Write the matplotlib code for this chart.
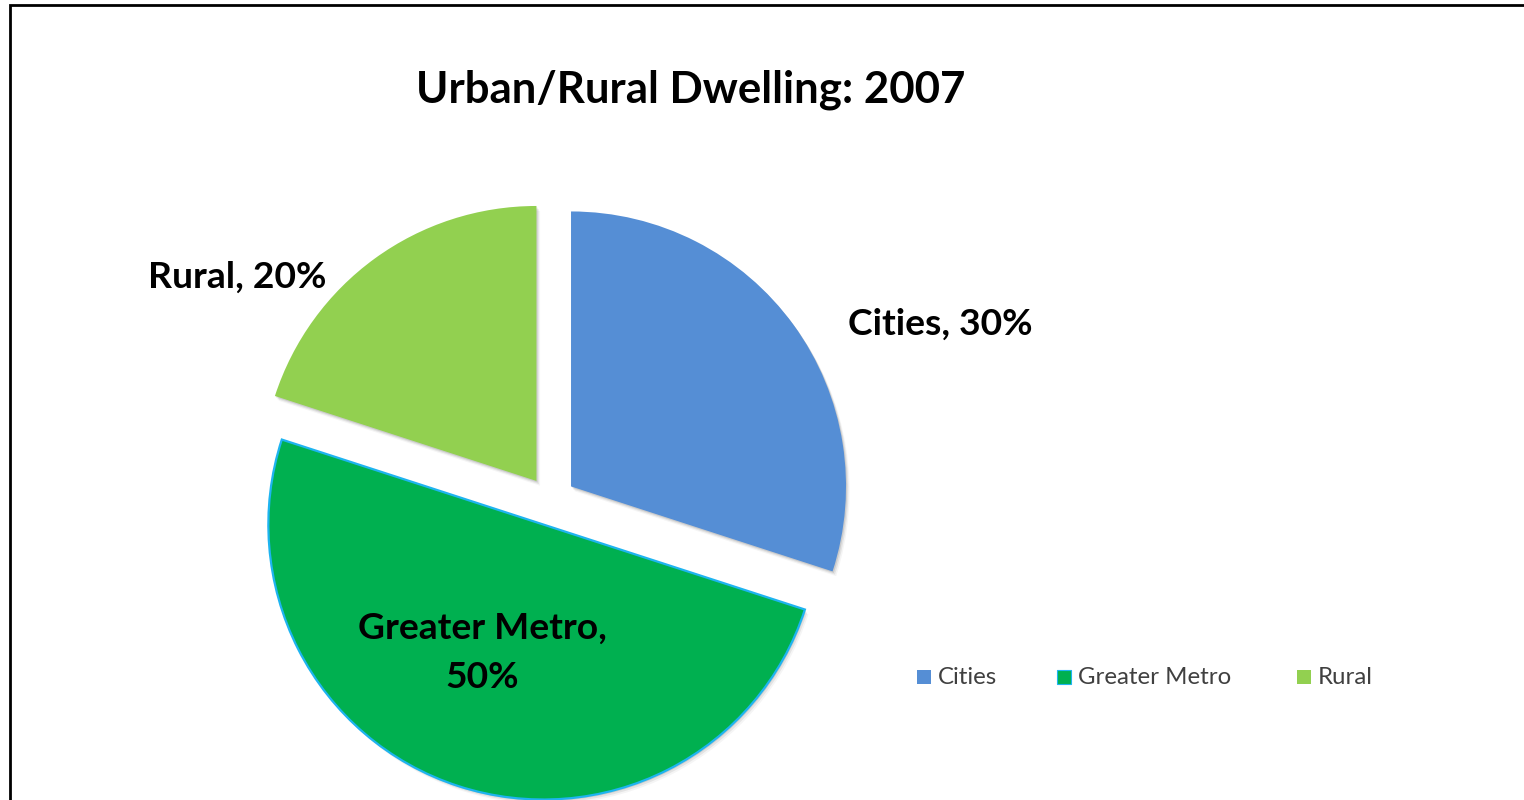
import matplotlib
matplotlib.use("Agg")
import matplotlib.pyplot as plt
from matplotlib.patches import Wedge

# Data
categories = ["Cities", "Greater Metro", "Rural"]
shares = [30, 50, 20]
colors = ["#558ED5", "#00B050", "#92D050"]
title = "Urban/Rural Dwelling: 2007"

W, H = 1524, 800
fig = plt.figure(figsize=(W / 100, H / 100), dpi=100)
ax = fig.add_axes([0, 0, 1, 1])

center = (551, H - 501)
radius = 275
# explode offsets are given in data units, so scale the fraction by the radius
explode = [0.09 * radius] * len(shares)

wedges, _ = ax.pie(
    shares, colors=colors, startangle=90, counterclock=False,
    center=center, radius=radius, explode=explode, frame=True,
    wedgeprops=dict(linewidth=0),
)
# light blue outline on the metro slice
wedges[1].set_edgecolor("#1EB4F0")
wedges[1].set_linewidth(1.6)
for w in wedges:
    w.set_zorder(3)

# soft drop shadow built from the pie's own wedge geometry
for w in wedges:
    for k, a in [(2, 0.10), (4, 0.07), (6, 0.04)]:
        cx, cy = w.center
        s = Wedge((cx + k * 0.6, cy - k * 0.8), w.r, w.theta1, w.theta2,
                  facecolor="black", edgecolor="none", alpha=a, zorder=2)
        ax.add_patch(s)

ax.set_xlim(0, W)
ax.set_ylim(0, H)
ax.set_aspect("equal")
ax.axis("off")

font = "Lato"
# slice labels
label_xy = [(940, H - 324), (482, H - 653), (237, H - 277)]
label_txt = [f"{c}, {v}%" for c, v in zip(categories, shares)]
label_txt[1] = f"{categories[1]},\n{shares[1]}%"
for (x, y), t in zip(label_xy, label_txt):
    ax.text(x, y, t, ha="center", va="center", fontsize=26.8, fontweight="bold",
            family=font, color="black", linespacing=1.6, zorder=5)

ax.text(691, H - 90, title, ha="center", va="center", fontsize=31.5,
        fontweight="bold", family=font, color="black")

# legend
leg_x = [917, 1057, 1297]
leg_y = H - 677
for x, c, col in zip(leg_x, categories, colors):
    ax.add_patch(plt.Rectangle((x, leg_y - 7), 14, 14, facecolor=col,
                               edgecolor="#1EB4F0" if c == "Greater Metro" else "none",
                               linewidth=0.8, zorder=5))
    ax.text(x + 21, leg_y, c, ha="left", va="center", fontsize=17.3,
            family=font, color="#404040")

# chart frame
ax.plot([10, 10, W], [0, H - 5, H - 5], color="black", linewidth=2,
        solid_joinstyle="miter", zorder=6)

fig.savefig("out.png", dpi=100)
